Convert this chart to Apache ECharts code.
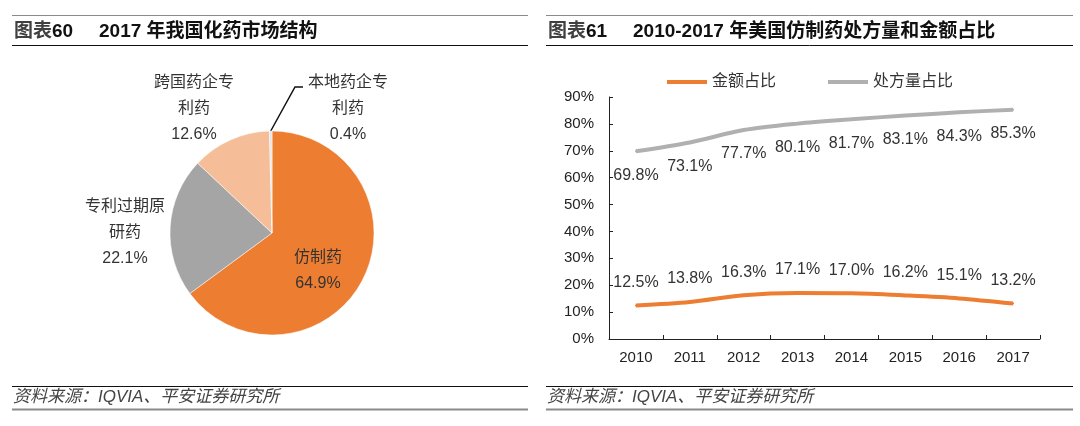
<!DOCTYPE html>
<html>
<head>
<meta charset="utf-8">
<script src="https://cdn.jsdelivr.net/npm/echarts@6/dist/echarts.min.js"></script>
<style>
html,body{margin:0;padding:0;background:#fff;}
#c{width:1080px;height:426px;}
</style>
</head>
<body>
<div id="c"></div>
<script>
// ---- data ----
var pieNames = ['仿制药', '专利过期原研药', '跨国药企专利药', '本地药企专利药'];
var pieValues = [64.9, 22.1, 12.6, 0.4];
var years = ['2010', '2011', '2012', '2013', '2014', '2015', '2016', '2017'];
var amountShare = [12.5, 13.8, 16.3, 17.1, 17.0, 16.2, 15.1, 13.2];
var rxShare = [69.8, 73.1, 77.7, 80.1, 81.7, 83.1, 84.3, 85.3];
var seriesNames = ['金额占比', '处方量占比'];
var leftTitleNo = '60', leftTitle = '2017 年我国化药市场结构';
var rightTitleNo = '61', rightTitle = '2010-2017 年美国仿制药处方量和金额占比';
var sourceText = '资料来源：IQVIA、平安证券研究所';

var FONT = '"Liberation Sans", Arial, "Noto Sans CJK SC", sans-serif';
var pieColors = ['#ED7D31', '#A5A5A5', '#F6BE98', '#E4E4E4'];
var labelCenters = [[318, 271], [125, 233], [194, 109], [348, 109]];

function wrapName(n) {
  return n.length > 5 ? n.slice(0, 5) + '\n' + n.slice(5) : n;
}

var pieData = pieNames.map(function (n, i) {
  var d = { name: n, value: pieValues[i], itemStyle: { color: pieColors[i] } };
  if (i === 0) d.label = { position: 'inside' };
  if (i === 3) d.labelLine = { show: true, length: 20, length2: 8 };
  return d;
});

function rule(x1, x2, y, color, w) {
  return { type: 'line', silent: true, shape: { x1: x1, y1: y, x2: x2, y2: y },
           style: { stroke: color, lineWidth: w } };
}

var chart = echarts.init(document.getElementById('c'), null, { renderer: 'canvas' });
var option = {
  backgroundColor: '#fff',
  animation: false,
  textStyle: { fontFamily: FONT },
  title: [
    { text: '{a|图表}{b|' + leftTitleNo + '}', left: 14, top: 22, padding: 0,
      textStyle: { rich: { a: { fontSize: 19, color: '#404040', fontFamily: FONT },
                           b: { fontSize: 19, fontWeight: 'bold', color: '#111', fontFamily: FONT } } } },
    { text: leftTitle, left: 99, top: 22, padding: 0,
      textStyle: { fontSize: 19, fontWeight: 'bold', color: '#111', fontFamily: FONT } },
    { text: '{a|图表}{b|' + rightTitleNo + '}', left: 548, top: 22, padding: 0,
      textStyle: { rich: { a: { fontSize: 19, color: '#404040', fontFamily: FONT },
                           b: { fontSize: 19, fontWeight: 'bold', color: '#111', fontFamily: FONT } } } },
    { text: rightTitle, left: 633, top: 22, padding: 0,
      textStyle: { fontSize: 19, fontWeight: 'bold', color: '#111', fontFamily: FONT } },
    { text: sourceText, left: 13, top: 389, padding: 0,
      textStyle: { fontSize: 17, fontStyle: 'italic', fontWeight: 'normal', color: '#444', fontFamily: FONT } },
    { text: sourceText, left: 547, top: 389, padding: 0,
      textStyle: { fontSize: 17, fontStyle: 'italic', fontWeight: 'normal', color: '#444', fontFamily: FONT } }
  ],
  graphic: [
    rule(12, 528, 15.5, '#8a8a8a', 1),
    rule(12, 528, 45.5, '#111', 1),
    rule(12, 528, 386.5, '#111', 1),
    rule(12, 528, 409.5, '#8a8a8a', 2),
    rule(546, 1073, 15.5, '#8a8a8a', 1),
    rule(546, 1073, 45.5, '#111', 1),
    rule(546, 1073, 386.5, '#111', 1),
    rule(546, 1073, 409.5, '#8a8a8a', 2)
  ],
  legend: {
    data: seriesNames,
    left: 667, top: 74, padding: 0,
    icon: 'rect', itemWidth: 40, itemHeight: 4, itemGap: 52,
    textStyle: { fontSize: 16, color: '#333', fontFamily: FONT }
  },
  grid: { left: 609, right: 40, top: 97, bottom: 87, containLabel: false },
  xAxis: {
    type: 'category', data: years, boundaryGap: true,
    axisLine: { lineStyle: { color: '#222', width: 1 } },
    axisTick: { show: true, inside: true, length: 4, lineStyle: { color: '#222' } },
    axisLabel: { fontSize: 15, color: '#222', margin: 11, fontFamily: FONT }
  },
  yAxis: {
    type: 'value', min: 0, max: 90, interval: 10,
    axisLine: { show: true, lineStyle: { color: '#222', width: 1 } },
    axisTick: { show: true, inside: true, length: 4, lineStyle: { color: '#222' } },
    splitLine: { show: false },
    axisLabel: { fontSize: 15, color: '#222', margin: 15, formatter: '{value}%', fontFamily: FONT }
  },
  series: [
    {
      type: 'pie', center: [272, 233], radius: 102,
      startAngle: 90, clockwise: true, avoidLabelOverlap: false,
      itemStyle: { borderColor: '#fff', borderWidth: 0.5 },
      label: {
        show: true, position: 'outside', fontSize: 16, lineHeight: 26, color: '#333',
        fontFamily: FONT, align: 'center',
        formatter: function (p) { return wrapName(p.name) + '\n' + p.value.toFixed(1) + '%'; }
      },
      labelLine: { show: false, lineStyle: { color: '#111', width: 1.5 } },
      labelLayout: function (p) {
        var c = labelCenters[p.dataIndex];
        var r = { x: c[0], y: c[1], align: 'center', verticalAlign: 'middle' };
        if (p.dataIndex === 3 && p.labelLinePoints) {
          var s = p.labelLinePoints[0];
          var left = c[0] - p.labelRect.width / 2;
          var yy = c[1] - p.labelRect.height / 2 + 17;
          r.labelLinePoints = [s, [left - 13, yy], [left - 5, yy]];
        }
        return r;
      },
      data: pieData
    },
    {
      name: seriesNames[0], type: 'line', data: amountShare, smooth: 0.3,
      symbol: 'circle', symbolSize: 2, showSymbol: true,
      lineStyle: { color: '#ED7D31', width: 4 }, itemStyle: { color: '#ED7D31' },
      label: { show: true, position: 'top', distance: 14, fontSize: 16, color: '#333', fontFamily: FONT,
               formatter: function (p) { return p.value.toFixed(1) + '%'; } }
    },
    {
      name: seriesNames[1], type: 'line', data: rxShare, smooth: 0.3,
      symbol: 'circle', symbolSize: 2, showSymbol: true,
      lineStyle: { color: '#B0B0B0', width: 4 }, itemStyle: { color: '#B0B0B0' },
      label: { show: true, position: 'bottom', distance: 15, fontSize: 16, color: '#333', fontFamily: FONT,
               formatter: function (p) { return p.value.toFixed(1) + '%'; } }
    }
  ]
};
chart.setOption(option);
</script>
</body>
</html>
